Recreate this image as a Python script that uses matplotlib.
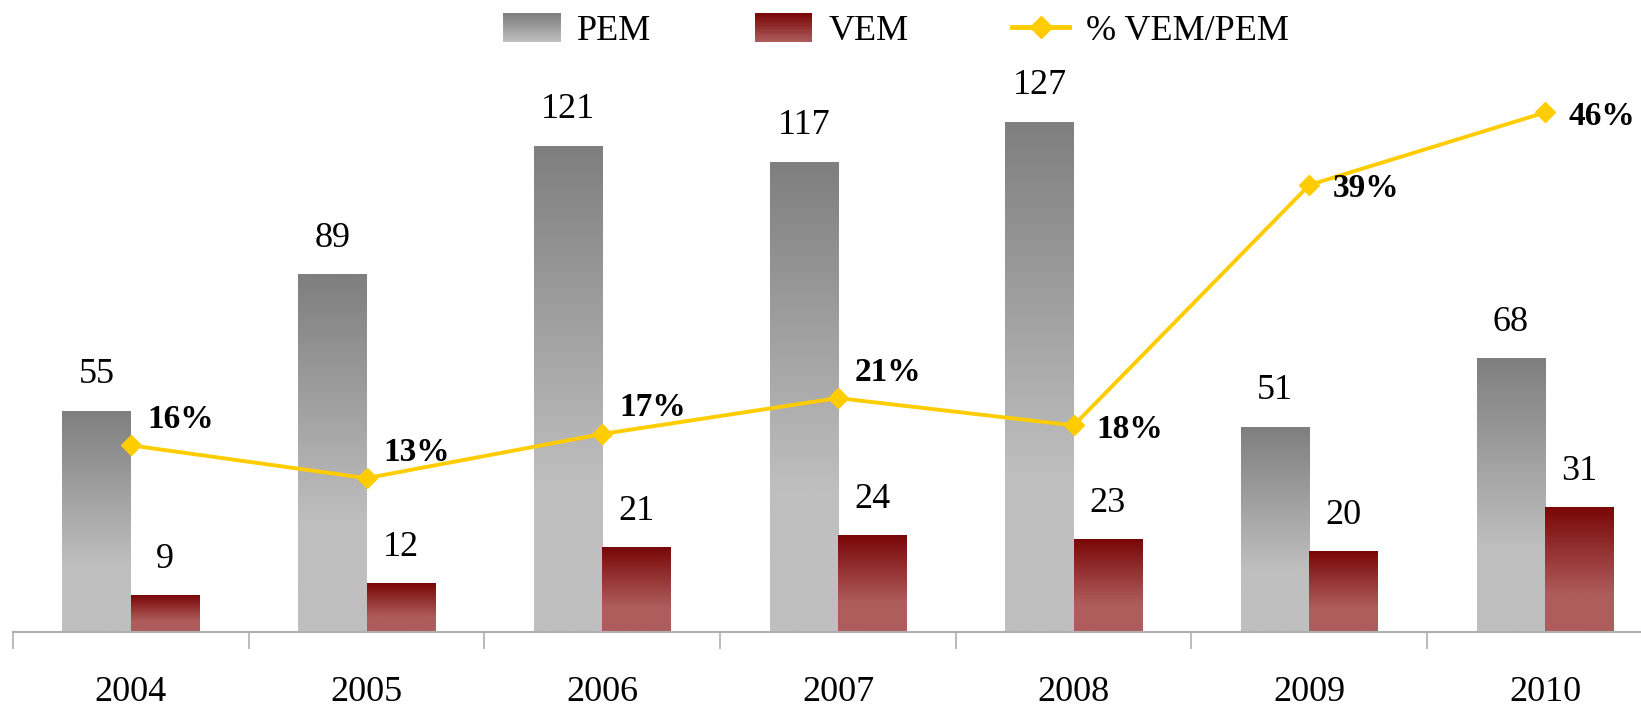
import matplotlib
matplotlib.use('Agg')
import matplotlib.pyplot as plt
import numpy as np
from matplotlib.colors import LinearSegmentedColormap, to_rgb
from matplotlib.legend_handler import HandlerBase
from matplotlib.patches import Rectangle
from matplotlib.lines import Line2D

plt.rcParams['font.family'] = ['Liberation Serif', 'DejaVu Serif']

# data
years = ['2004', '2005', '2006', '2007', '2008', '2009', '2010']
pem = [55, 89, 121, 117, 127, 51, 68]
vem = [9, 12, 21, 24, 23, 20, 31]
ratio_pct = [16.36, 13.48, 17.36, 20.51, 18.11, 39.22, 45.59]

# label placement for the % values ('up' = above right, 'right' = beside)
label_side = ['up', 'up', 'up', 'up', 'right', 'right', 'right']

PEM_TOP, PEM_BOT = '#7f7f7f', '#bfbfbf'
VEM_TOP, VEM_BOT = '#7a0707', '#ae5c5c'
LINE_COL = '#ffcc00'
FS = 26
FS_PCT = 24


def grad_cmap(top, bottom):
    return LinearSegmentedColormap.from_list('g', [bottom, top])


def gradient_bars(ax, xs, heights, width, top, bottom):
    cmap = grad_cmap(top, bottom)
    bars = ax.bar(xs, heights, width, color='none', edgecolor='none', zorder=2)
    t = np.linspace(0, 1, 200)
    g = np.clip((t - 0.3) / 0.7, 0, 1)[::-1].reshape(-1, 1)
    for b in bars:
        x0, y0 = b.get_x(), b.get_y()
        ax.imshow(g, extent=[x0, x0 + b.get_width(), y0, y0 + b.get_height()],
                  cmap=cmap, vmin=0, vmax=1, aspect='auto', zorder=2,
                  interpolation='bilinear')
    return bars


class GradientHandler(HandlerBase):
    def __init__(self, top, bottom):
        super().__init__()
        self.top, self.bottom = np.array(to_rgb(top)), np.array(to_rgb(bottom))

    def create_artists(self, legend, orig_handle, xdescent, ydescent,
                       width, height, fontsize, trans):
        n = 24
        out = []
        for i in range(n):
            f = i / (n - 1)
            c = self.bottom + (self.top - self.bottom) * f
            out.append(Rectangle((-xdescent, -ydescent + i * height / n),
                                 width, height / n * 1.05, facecolor=c,
                                 edgecolor='none', transform=trans))
        return out


W, H = 1641, 709
fig = plt.figure(figsize=(W / 100, H / 100), dpi=100)

cat_w = 235.7
ax_left, ax_bottom_px, ax_top_px = 13, 709 - 631.7, 709 - 60
ax = fig.add_axes([ax_left / W, ax_bottom_px / H, 7 * cat_w / W,
                   (ax_top_px - ax_bottom_px) / H])
ax_h = ax_top_px - ax_bottom_px

x = np.arange(len(years))
bw = 0.29
gradient_bars(ax, x - bw / 2, pem, bw, PEM_TOP, PEM_BOT)
gradient_bars(ax, x + bw / 2, vem, bw, VEM_TOP, VEM_BOT)

for xi, v in zip(x, pem):
    ax.annotate(str(v), (xi - bw / 2, v), xytext=(0, 36), textcoords='offset pixels',
                ha='center', va='center', fontsize=FS)
for xi, v in zip(x, vem):
    ax.annotate(str(v), (xi + bw / 2, v), xytext=(0, 36), textcoords='offset pixels',
                ha='center', va='center', fontsize=FS)

ax.set_xlim(-0.5, len(years) - 0.5)
ax.set_ylim(0, ax_h / 4.015)
for s in ['top', 'right', 'left']:
    ax.spines[s].set_visible(False)
ax.spines['bottom'].set_color('#b0b0b0')
ax.spines['bottom'].set_linewidth(1.5)
ax.set_yticks([])
ax.set_xticks(np.arange(-0.5, len(years), 1.0))
ax.set_xticklabels([])
ax.tick_params(axis='x', which='major', length=12, width=1.2, color='#b0b0b0')
ax.set_xticks(x, minor=True)
ax.set_xticklabels(years, minor=True, fontsize=FS)
ax.tick_params(axis='x', which='minor', length=0, pad=32)

ax2 = ax.twinx()
ax2.set_ylim(0, ax_h / 11.39)
ax2.set_yticks([])
for s in ax2.spines.values():
    s.set_visible(False)
ax2.plot(x, ratio_pct, color=LINE_COL, lw=2.8, marker='D', ms=10.5,
         markeredgecolor=LINE_COL, zorder=3)
for xi, v, side in zip(x, ratio_pct, label_side):
    if side == 'up':
        off = (17, 26)
    else:
        off = (23, -4)
    ax2.annotate(f'{int(v + 0.5)}%', (xi, v), xytext=off, textcoords='offset pixels',
                 ha='left', va='center', fontsize=FS_PCT, fontweight='bold')

h_pem = Rectangle((0, 0), 1, 1)
h_vem = Rectangle((0, 0), 1, 1)
h_line = Line2D([], [], color=LINE_COL, lw=3.5, marker='D', ms=11)
fig.legend([h_pem, h_vem, h_line], ['PEM', 'VEM', '% VEM/PEM'],
           handler_map={h_pem: GradientHandler(PEM_TOP, PEM_BOT),
                        h_vem: GradientHandler(VEM_TOP, VEM_BOT)},
           loc='center', bbox_to_anchor=(0.546, 1 - 31 / H), ncol=3,
           frameon=False, fontsize=FS, handlelength=1.6, handleheight=0.85,
           handletextpad=0.45, columnspacing=2.85, borderpad=0)

fig.savefig('out.png', dpi=100)
